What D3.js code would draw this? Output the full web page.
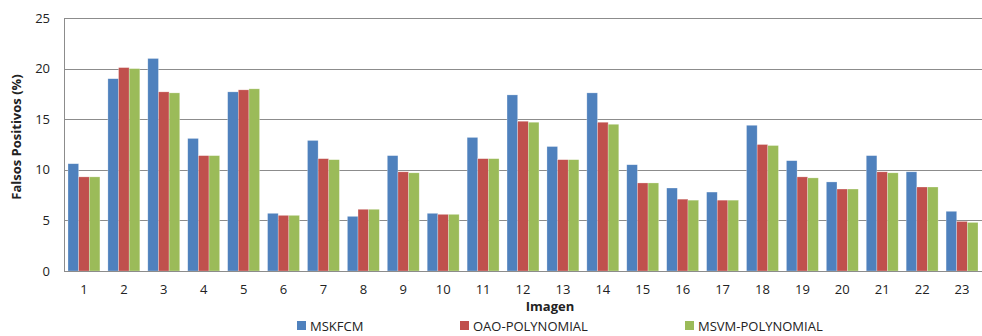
<!DOCTYPE html>
<html>
<head>
<meta charset="utf-8">
<script src="https://cdn.jsdelivr.net/npm/d3@7"></script>
<style>
  body { margin: 0; background: #fff; }
  text { font-family: "Open Sans", "Noto Sans", sans-serif; fill: #222; }
</style>
</head>
<body>
<svg id="chart"></svg>
<script>
// Data
const images = d3.range(1, 24).map(String);
const seriesNames = ['MSKFCM', 'OAO-POLYNOMIAL', 'MSVM-POLYNOMIAL'];
const mskfcm = [10.6, 19.0, 21.0, 13.1, 17.7, 5.7, 12.9, 5.4, 11.4, 5.7, 13.2, 17.4, 12.3, 17.6, 10.5, 8.2, 7.8, 14.4, 10.9, 8.8, 11.4, 9.8, 5.9];
const oao    = [9.3, 20.1, 17.7, 11.4, 17.9, 5.5, 11.1, 6.1, 9.8, 5.6, 11.1, 14.8, 11.0, 14.7, 8.7, 7.1, 7.0, 12.5, 9.3, 8.1, 9.8, 8.3, 4.9];
const msvm   = [9.3, 20.0, 17.6, 11.4, 18.0, 5.5, 11.0, 6.1, 9.7, 5.6, 11.1, 14.7, 11.0, 14.5, 8.7, 7.0, 7.0, 12.4, 9.2, 8.1, 9.7, 8.3, 4.8];
const yTicks = [0, 5, 10, 15, 20, 25];

const colors = ['#4F81BD', '#C0504D', '#9BBB59'];
const values = [mskfcm, oao, msvm];

const width = 982, height = 336;
const margin = { top: 18, right: 0, bottom: 65, left: 64 };
const innerW = width - margin.left - margin.right;
const innerH = height - margin.top - margin.bottom;

const data = images.map((img, i) => ({
    img,
    vals: values.map((arr, s) => ({ s, v: arr[i] }))
}));

const svg = d3.select('#chart')
    .attr('width', width)
    .attr('height', height);

const g = svg.append('g')
    .attr('transform', `translate(${margin.left},${margin.top})`);

// Scales
const x0 = d3.scaleBand()
    .domain(images)
    .range([0, innerW])
    .paddingInner(0.2)
    .paddingOuter(0.1);

const x1 = d3.scaleBand()
    .domain(d3.range(seriesNames.length))
    .range([0, x0.bandwidth()]);

const y = d3.scaleLinear()
    .domain([0, 25])
    .range([innerH, 0]);

// Gridlines
g.append('g')
    .selectAll('line')
    .data(yTicks.filter(t => t > 0))
    .enter().append('line')
    .attr('x1', 0)
    .attr('x2', innerW)
    .attr('y1', d => Math.round(y(d)) + 0.5)
    .attr('y2', d => Math.round(y(d)) + 0.5)
    .attr('stroke', '#8c8c8c')
    .attr('stroke-width', 1);

// Bars
const groups = g.selectAll('.grp')
    .data(data)
    .enter().append('g')
    .attr('class', 'grp')
    .attr('transform', d => `translate(${x0(d.img)},0)`);

groups.selectAll('rect')
    .data(d => d.vals)
    .enter().append('rect')
    .attr('x', d => x1(d.s))
    .attr('y', d => y(d.v))
    .attr('width', x1.bandwidth())
    .attr('height', d => innerH - y(d.v))
    .attr('fill', d => colors[d.s])
    .attr('stroke', 'rgba(255,255,255,0.45)')
    .attr('stroke-width', 0.6);

// Y axis
const yAxis = g.append('g')
    .call(d3.axisLeft(y).tickValues(yTicks).tickSize(0).tickPadding(14));
yAxis.select('.domain').attr('stroke', '#8c8c8c').attr('d', `M0.5,0V${innerH}`);
yAxis.selectAll('text')
    .style('font-size', '13px')
    .style('font-family', '"Open Sans", "Noto Sans", sans-serif')
    .attr('fill', '#222');

// X axis
const xAxis = g.append('g')
    .attr('transform', `translate(0,${innerH})`)
    .call(d3.axisBottom(x0).tickSize(0).tickPadding(14).tickSizeOuter(0));
xAxis.select('.domain').attr('stroke', '#8c8c8c').attr('d', `M0,0.5H${innerW}`);
xAxis.selectAll('text')
    .style('font-size', '13px')
    .style('font-family', '"Open Sans", "Noto Sans", sans-serif')
    .attr('fill', '#222');

// Axis titles
svg.append('text')
    .attr('x', 550)
    .attr('y', 311)
    .attr('text-anchor', 'middle')
    .style('font-size', '13px')
    .style('font-weight', 'bold')
    .text('Imagen');

svg.append('text')
    .attr('transform', 'translate(21,137) rotate(-90)')
    .attr('text-anchor', 'middle')
    .style('font-size', '13px')
    .style('font-weight', 'bold')
    .text('Falsos Positivos (%)');

// Legend
const legendX = [297, 460, 685];
const legend = svg.selectAll('.leg')
    .data(seriesNames)
    .enter().append('g')
    .attr('class', 'leg')
    .attr('transform', (d, i) => `translate(${legendX[i]},321)`);

legend.append('rect')
    .attr('width', 9)
    .attr('height', 9)
    .attr('fill', (d, i) => colors[i]);

legend.append('text')
    .attr('x', 13)
    .attr('y', 9.5)
    .style('font-size', '13px')
    .text(d => d);
</script>
</body>
</html>
